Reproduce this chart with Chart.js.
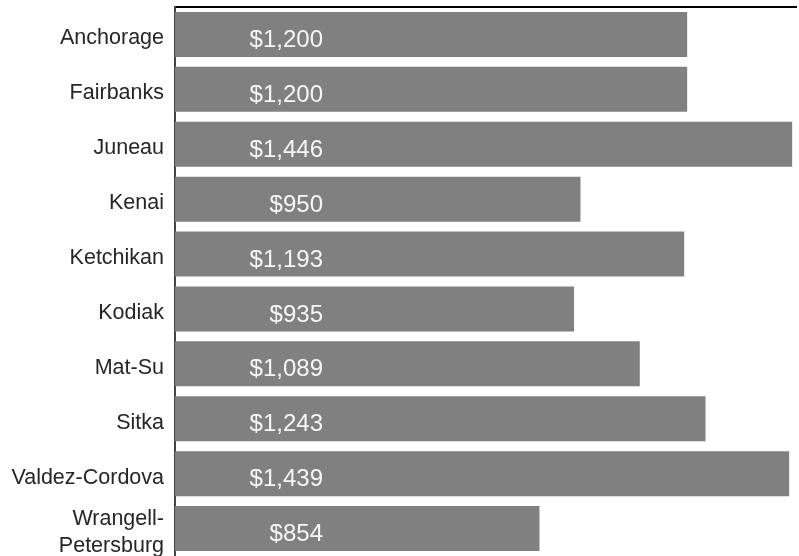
<!DOCTYPE html>
<html>
<head>
<meta charset="utf-8">
<script src="https://cdn.jsdelivr.net/npm/chart.js@4/dist/chart.umd.min.js"></script>
<style>
  html, body { margin: 0; padding: 0; background: #fff; overflow: hidden; }
  #wrap { width: 799px; height: 556px; }
</style>
</head>
<body>
<div id="wrap"><canvas id="costChart"></canvas></div>
<script>
const regions = ['Anchorage', 'Fairbanks', 'Juneau', 'Kenai', 'Ketchikan', 'Kodiak',
                 'Mat-Su', 'Sitka', 'Valdez-Cordova', ['Wrangell-', 'Petersburg']];
const costs = [1200, 1200, 1446, 950, 1193, 935, 1089, 1243, 1439, 854];
const axisMax = 1455;

// value labels drawn inside each bar, right-aligned at a fixed spot
const valueLabels = {
    id: 'valueLabels',
    afterDatasetsDraw(chart) {
        const ctx = chart.ctx;
        const meta = chart.getDatasetMeta(0);
        ctx.save();
        ctx.font = '24px "Liberation Sans", Arial, sans-serif';
        ctx.fillStyle = '#f6f6f6';
        ctx.textAlign = 'right';
        ctx.textBaseline = 'middle';
        meta.data.forEach(function (bar, i) {
            ctx.fillText('$' + costs[i].toLocaleString('en-US'), chart.chartArea.left + 148, bar.y + 6);
        });
        ctx.restore();
    }
};

document.addEventListener("DOMContentLoaded", function () {
    const ctx = document.getElementById('costChart').getContext('2d');
    new Chart(ctx, {
        type: 'bar',
        data: {
            labels: regions,
            datasets: [{
                data: costs,
                backgroundColor: '#808080',
                borderWidth: 0,
                barPercentage: 0.82,
                categoryPercentage: 1.0
            }]
        },
        options: {
            indexAxis: 'y',
            responsive: true,
            maintainAspectRatio: false,
            animation: false,
            layout: { padding: { top: 0, right: 3, bottom: 0, left: 0 } },
            plugins: {
                legend: { display: false },
                tooltip: { enabled: false }
            },
            scales: {
                x: {
                    position: 'top',
                    min: 0,
                    max: axisMax,
                    grid: { display: false, drawTicks: false },
                    ticks: { display: false },
                    border: { display: true, color: '#000', width: 2 },
                    afterFit: function (scale) {
                        scale.height = 7;
                        scale.paddingLeft = 0;
                        scale.paddingRight = 0;
                    }
                },
                y: {
                    grid: { display: false, drawTicks: false },
                    border: { display: true, color: '#444', width: 2 },
                    ticks: {
                        color: '#262626',
                        padding: 11,
                        autoSkip: false,
                        labelOffset: 4,
                        font: { family: '"Liberation Sans", Arial, sans-serif', size: 21.5, lineHeight: 1.25 }
                    },
                    afterFit: function (scale) {
                        scale.width = 175;
                        scale.paddingTop = 0;
                        scale.paddingBottom = 0;
                    }
                }
            }
        },
        plugins: [valueLabels]
    });
});
</script>
</body>
</html>
